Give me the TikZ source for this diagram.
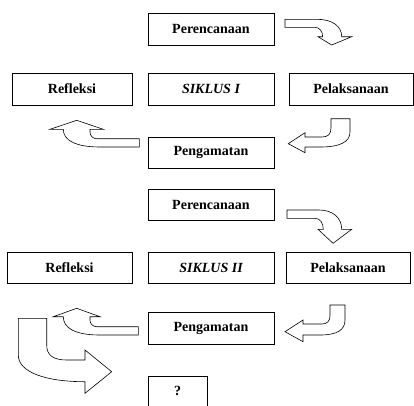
\documentclass[tikz,border=0pt]{standalone}
\usepackage{fontspec}
\setmainfont{Liberation Serif}
\begin{document}
\begin{tikzpicture}[x=1pt,y=-1pt,
  kotak/.style={draw,line width=.8pt,inner sep=0pt,minimum width=126pt,minimum height=32pt,
    font=\fontsize{14}{16}\selectfont\bfseries},
  panah/.style={draw,line width=.6pt,line join=miter}]
\useasboundingbox (0,0) rectangle (414,405);
% siklus I
\node[kotak] (ren1) at (211,29) {Perencanaan};
\node[kotak,minimum width=120pt] (ref1) at (72,89) {Refleksi};
\node[kotak] (sik1) at (211,89) {\itshape SIKLUS I};
\node[kotak,minimum width=124pt] (pel1) at (351,89) {Pelaksanaan};
\node[kotak,minimum height=31pt] (pen1) at (211,152.5) {Pengamatan};
%
\draw[panah] (285,19.3) -- (317,19.3) .. controls (332,19.3) and (341.7,26) .. (341.7,36.7)
  -- (351.7,36.7) -- (331.7,45) -- (318,36.7) -- (322.7,36.7)
  .. controls (322.7,31) and (319,27.3) .. (315,27.3) -- (285,27.3) -- cycle;
\draw[panah] (331,118.7) -- (350,118.7) -- (350,132) .. controls (350,142) and (340,147) .. (320,147)
  -- (305,147) -- (305,152.7) -- (288.3,143.7) -- (305,132.7) -- (305,137) -- (322,137)
  .. controls (328,137) and (331,134) .. (331,128) -- cycle;
\draw[panah] (139.3,138.7) -- (97,138.7) .. controls (93,138.7) and (90,136) .. (90,132)
  -- (90,129.3) -- (103.3,129.3) -- (76.7,120.3) -- (50,129.3) -- (63.3,129.3)
  .. controls (63.3,140) and (75,147) .. (100,147) -- (139.3,147) -- cycle;
% siklus II
\node[kotak,minimum height=31pt] (ren2) at (211,204.5) {Perencanaan};
\node[kotak,minimum width=125pt,minimum height=31pt] (ref2) at (69.5,267.5) {Refleksi};
\node[kotak,minimum height=31pt] (sik2) at (211,267.5) {\itshape SIKLUS II};
\node[kotak,minimum width=124pt,minimum height=31pt] (pel2) at (348,267.5) {Pelaksanaan};
\node[kotak] (pen2) at (211,328) {Pengamatan};
\node[kotak,minimum width=59pt,minimum height=30pt] (tanya) at (177.5,391) {?};
%
\draw[panah] (287,210) -- (319,210) .. controls (333,210) and (341.7,218) .. (341.7,229.3)
  -- (351.7,229.3) -- (333,243.3) -- (318,229.3) -- (323.3,229.3)
  .. controls (323.3,223) and (320,218.3) .. (315,218.3) -- (287,218.3) -- cycle;
\draw[panah] (330,305) -- (345,305) -- (345,320) .. controls (345,330) and (337,335) .. (320,335)
  -- (303,335) -- (303,341.7) -- (285,331.7) -- (303,320) -- (303,324) -- (322,324)
  .. controls (327,324) and (330,321) .. (330,316) -- cycle;
\draw[panah] (138.3,326.7) -- (97,326.7) .. controls (93,326.7) and (90,324) .. (90,320)
  -- (90,316.7) -- (100,316.7) -- (76.7,308.3) -- (53.3,316.7) -- (63.3,316.7)
  .. controls (63.3,328) and (75,335) .. (100,335) -- (138.3,335) -- cycle;
\draw[panah] (18.3,318.3) -- (46.7,318.3) -- (46.7,345) .. controls (46.7,355) and (53,360) .. (66.7,360)
  -- (85,360) -- (85,350) -- (111.7,371.7) -- (85,393.3) -- (85,381.7)
  .. controls (45,381.7) and (18.3,372) .. (18.3,355) -- cycle;
%
\end{tikzpicture}
\end{document}
